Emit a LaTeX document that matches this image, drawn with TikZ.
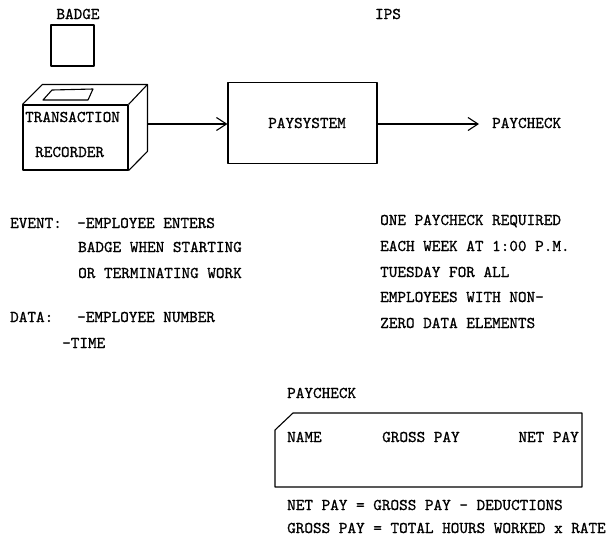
\documentclass[tikz,border=0pt]{standalone}
\usepackage{fontspec}
\newfontfamily\twfont{lmmono10-regular.otf}[FakeBold=0.9]
\usetikzlibrary{arrows.meta}
\begin{document}
\begin{tikzpicture}[x=1pt,y=-1pt,
  ln/.style={line width=1.1pt,line join=round},
  txt/.style={inner sep=0pt,font=\fontsize{16.4}{18}\twfont},
  tl/.style={txt,anchor=base west},
  arr/.style={ln,-{Straight Barb[length=10pt,width=13pt,line width=1.1pt]}}]
\useasboundingbox (0,0) rectangle (606,542);
% top labels
\node[txt,anchor=base] (badgelbl) at (78,19) {BADGE};
\node[txt,anchor=base] (ips) at (388,19) {IPS};
% badge
\node[ln,draw,minimum width=43pt,minimum height=41pt,inner sep=0pt] (badge) at (72.5,45.5) {};
% transaction recorder (front face)
\node[ln,draw,minimum width=105pt,minimum height=65pt,inner sep=0pt] (rec) at (75.5,137.5) {};
\draw[ln] (rec.north west) -- ++(20,-20) coordinate (bl) -- ++(105,0) coordinate (br)
  -- ++(0,67) coordinate (recR0) -- (rec.south east);
\draw[ln] (rec.north east) -- (br);
\draw[ln] (43,100) -- (52,90) -- (93,89) -- (88,100) -- cycle;
\coordinate (recR) at (148,124);
\node[tl] (t1) at (25,122) {TRANSACTION};
\node[tl] (t2) at (35,157) {RECORDER};
% paysystem
\node[ln,draw,minimum width=149pt,minimum height=81pt,inner sep=0pt] (sys) at (302.5,123) {};
\node[txt,anchor=base] (syslbl) at (307,128) {PAYSYSTEM};
\node[tl] (pc) at (492,128) {PAYCHECK};
\coordinate (pcTip) at (479,124);
\draw[arr] (recR) -- (recR -| sys.west);
\draw[arr] (sys.east |- pcTip) -- (pcTip);
% left text
\node[tl] (e1) at (10,228) {EVENT:};
\node[tl] (e2) at (77,228) {-EMPLOYEE ENTERS};
\node[tl] (e3) at (78,252) {BADGE WHEN STARTING};
\node[tl] (e4) at (78,278) {OR TERMINATING WORK};
\node[tl] (d1) at (10,322) {DATA:};
\node[tl] (d2) at (77,322) {-EMPLOYEE NUMBER};
\node[tl] (d3) at (62,348) {-TIME};
% right text
\node[tl] (r1) at (380,225) {ONE PAYCHECK REQUIRED};
\node[tl] (r2) at (380,251) {EACH WEEK AT 1:00 P.M.};
\node[tl] (r3) at (380,277) {TUESDAY FOR ALL};
\node[tl] (r4) at (380,302) {EMPLOYEES WITH NON-};
\node[tl] (r5) at (380,328) {ZERO DATA ELEMENTS};
% paycheck form
\node[tl] (pcl) at (287,398) {PAYCHECK};
\draw[ln] (293,413) coordinate (pA) -- (582,413) -- (582,487) -- (275,487) -- (275,430) -- cycle;
\node[tl] (n1) at (287,442) {NAME};
\node[tl] (n2) at (382,442) {GROSS PAY};
\node[txt,anchor=base east] (n3) at (579,442) {NET PAY};
\node[tl] (f1) at (287,510) {NET PAY = GROSS PAY - DEDUCTIONS};
\node[tl] (f2) at (287,533) {GROSS PAY = TOTAL HOURS WORKED x RATE};
\end{tikzpicture}
\end{document}
